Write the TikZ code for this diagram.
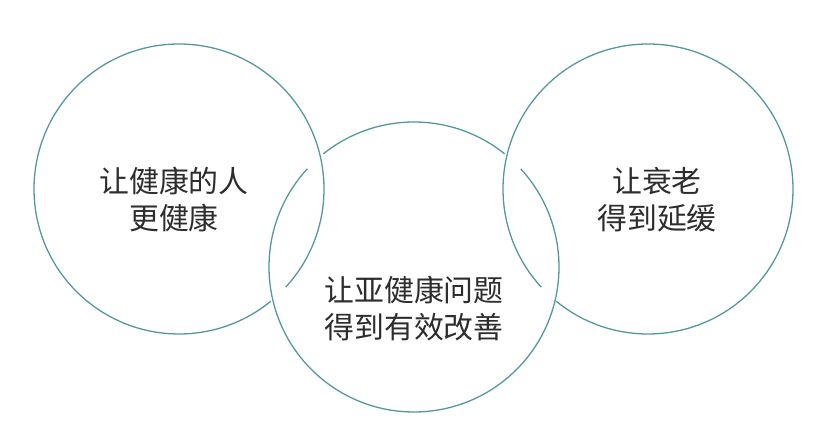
\documentclass[tikz,border=0pt]{standalone}
\usepackage{fontspec}
\newfontfamily\cjk{Noto Sans CJK SC}
\definecolor{ringcol}{RGB}{84,152,156}
\definecolor{inkcol}{RGB}{45,45,45}

\begin{document}
\begin{tikzpicture}[x=0.03cm,y=0.03cm,
	hoop/.style={draw=ringcol, line width=1.1pt},
	words/.style={align=center, text=inkcol, font=\cjk\fontsize{25.5}{31.5}\selectfont}]
	\fill[white] (0,0) rectangle (828,444);
	\useasboundingbox (0,0) rectangle (828,444);

	\coordinate (l) at (179,255);
	\coordinate (m) at (414,177);
	\coordinate (r) at (648,255);

	% rings, each broken where it passes under its neighbour
	\draw[hoop] ([shift={(317.4:145)}]l) arc[start angle=317.4, end angle=669.3, radius=145];
	\draw[hoop] ([shift={(51.3:145)}]m) arc[start angle=51.3, end angle=128.7, radius=145];
	\draw[hoop] ([shift={(137.4:145)}]m) arc[start angle=137.4, end angle=402.6, radius=145];
	\draw[hoop] ([shift={(230.7:145)}]r) arc[start angle=230.7, end angle=582.6, radius=145];

	\node[words] (healthy) at (174,244.5) {让健康的人\\更健康};
	\node[words] (subhealthy) at (414,135.5) {让亚健康问题\\得到有效改善};
	\node[words] (ageing) at (657,244.5) {让衰老\\得到延缓};
\end{tikzpicture}
\end{document}
